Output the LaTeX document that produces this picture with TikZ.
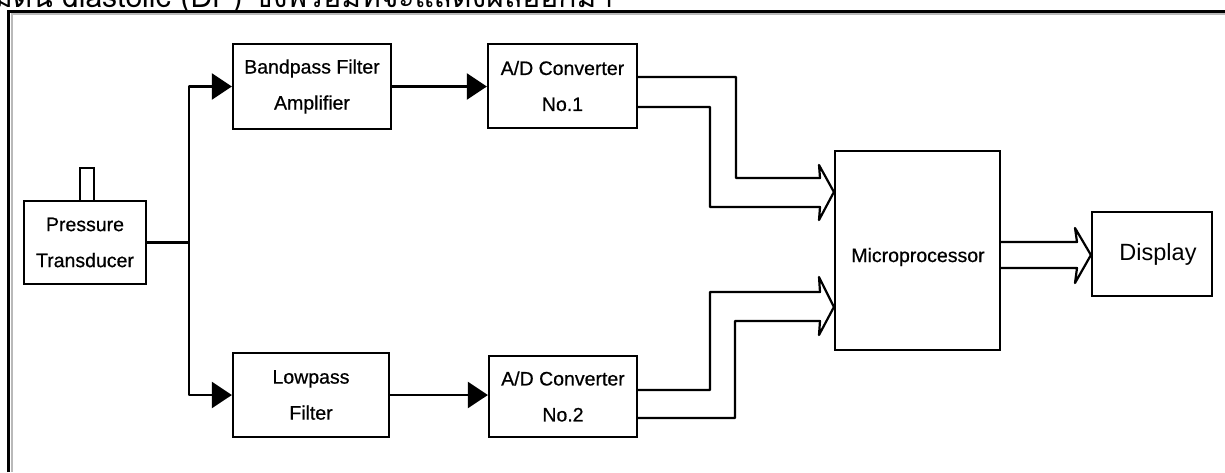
\documentclass[tikz,border=0pt]{standalone}
\usepackage{fontspec}
\setmainfont{Liberation Sans}
\newfontfamily\thaifont[Script=Thai]{Loma}
\usetikzlibrary{arrows.meta,calc}
\tikzset{
  blk/.style={draw, line width=2.2pt, inner sep=0pt, align=center,
    font=\addfontfeature{FakeBold=0.6}\fontsize{19.5}{36}\selectfont},
  lbl/.style={inner sep=0pt, font=\addfontfeature{FakeBold=0.6}\fontsize{19.5}{24}\selectfont},
  conn/.style={line width=2.2pt, line join=round},
  tri/.style={-{Triangle[length=20pt,width=26pt]}},
  bus/.style={line width=2.2pt, line join=round},
  captxt/.style={inner sep=0pt, font=\thaifont\fontsize{30}{34}\selectfont},
}
\begin{document}
\begin{tikzpicture}[x=1pt,y=-1pt]
\useasboundingbox (0,0) rectangle (1225,472);
\clip (0,0) rectangle (1225,472);
\fill[white] (0,0) rectangle (1225,472);
% cut-off caption line at the top
\node[captxt, anchor=base east] (cap1) at (53,7) {ความดัน};
\node[captxt, anchor=base west] (cap2) at (62,7) {diastolic (DP) ซึ่งพร้อมที่จะแสดงผลออกมา};
% frame
\draw[gray!55, line width=2.2pt] (11.6,472) -- (11.6,13.9) -- (1225,13.9);
\draw[line width=2.8pt] (8.8,472) -- (8.8,11.3) -- (1225,11.3);
% blocks
\node[blk, minimum width=122pt, minimum height=83pt] (PT) at (85,242.5) {Pressure\\Transducer};
\node[blk, minimum width=158pt, minimum height=85pt] (BP) at (312,86.5) {Bandpass Filter\\Amplifier};
\node[blk, minimum width=149pt, minimum height=84pt] (AD1) at (562.5,86) {A/D Converter\\No.1};
\node[blk, minimum width=156pt, minimum height=84pt] (LP) at (311,395) {Lowpass\\Filter};
\node[blk, minimum width=148pt, minimum height=81pt] (AD2) at (563,396.5) {A/D Converter\\No.2};
\node[blk, minimum width=165pt, minimum height=199pt] (MP) at (917.5,250.5) {};
\node[lbl] (MPt) at (918,257) {Microprocessor};
\node[blk, minimum width=120pt, minimum height=84pt] (DI) at (1152,254) {};
\node[inner sep=0pt, font=\fontsize{23.5}{26}\selectfont] (DIt) at (1158,254) {Display};
% stub on the transducer
\draw[line width=2pt] (80,201) -- (80,168) -- (94,168) -- (94,201);
% branching
\coordinate (j) at (189,242.5);
\draw[conn] (PT.east) -- (j);
\draw[conn, tri] (j) |- (BP.west);
\draw[conn, tri] (j) |- (LP.west);
\draw[conn, tri] (BP.east) -- (AD1.west |- BP.east);
\draw[conn, tri] (LP.east) -- (AD2.west |- LP.east);
% bus from AD1 to microprocessor
\coordinate (a1u) at (0,77);
\coordinate (a1l) at (0,107);
\coordinate (t1) at (0,192);
\draw[bus] (AD1.east |- a1u) -| (736,178) -- (820,178) -- (819,165) -- (MP.west |- t1)
  -- (819,220) -- (820,207) -- (710,207) |- (AD1.east |- a1l);
% bus from AD2 to microprocessor
\coordinate (a2u) at (0,390);
\coordinate (a2l) at (0,418);
\coordinate (t2) at (0,307);
\draw[bus] (AD2.east |- a2u) -| (710,292) -- (820,292) -- (819,277) -- (MP.west |- t2)
  -- (819,335) -- (820,321) -- (735,321) |- (AD2.east |- a2l);
% bus from microprocessor to display
\coordinate (mu) at (0,242);
\coordinate (ml) at (0,268);
\coordinate (t3) at (0,255);
\draw[bus] (MP.east |- mu) -- (1077,242) -- (1075,228) -- (DI.west |- t3)
  -- (1075,283) -- (1077,268) -- (MP.east |- ml);
\end{tikzpicture}
\end{document}
